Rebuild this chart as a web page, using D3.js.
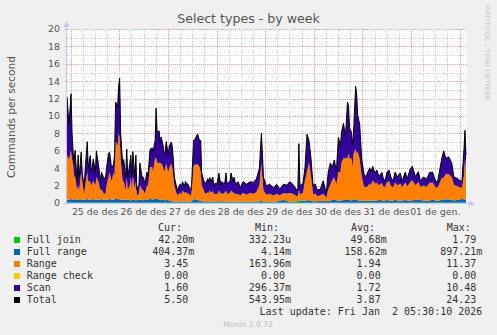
<!DOCTYPE html>
<html><head><meta charset="utf-8">
<script src="https://cdn.jsdelivr.net/npm/d3@7"></script>
<style>body{margin:0;background:#f0f0f0;} svg{display:block;}</style>
</head><body><svg id="c" width="497" height="335"></svg>
<script>
// 30-minute sample slots counted from the graph start
const slots = [
 0,2,4,5,6,7,8,10,11,12,14,15,17,18,20,21,23,24,26,28,29,31,33,34,36,38,39,41,42,44,46,47,48,50,51,52,53,55,56,58,59,60,
 62,63,64,65,67,68,69,71,72,74,75,77,79,80,82,84,85,87,88,89,91,92,93,95,96,97,98,100,
 101,103,104,105,106,108,109,110,112,113,114,116,117,118,119,121,122,123,125,126,128,129,131,132,133,135,136,137,139,140,141,142,144,145,146,148,149,150,152,153,154,156,157,158,160,
 161,162,164,165,166,168,169,171,174,177,181,184,187,190,192,194,197,200,204,207,210,214,217,220,223,227,228,229,230,
 233,235,237,239,241,243,245,247,250,253,256,258,260,262,264,266,268,270,271,273,275,277,278,279,281,282,283,285,286,287,289,290,291,293,294,296,299,300,
 302,304,306,308,311,312,314,316,318,320,322,324,326,329,331,334,336,339,341,344,347,349,352,355,358,361,364,366,370,372,374,377,380,382,385,388,390,392,393,394];
const fullJoin = [
 .05,.06,.05,.04,.05,.06,.05, .05,.06,.05,.04,.05,.06,.05, .05,.06,.05,.04,.05,.06,.05, .05,.06,.05,.04,.05,.06,.05, .05,.06,.05,.04,.05,.06,.05, .05,.06,.05,.04,.05,.06,.05,
 .05,.04,.05,.06,.05,.05,.04, .05,.04,.05,.06,.05,.05,.04, .05,.04,.05,.06,.05,.05,.04, .05,.04,.05,.06,.05,.05,.04,
 .05,.05,.04,.05,.06,.05,.05, .05,.05,.04,.05,.06,.05,.05, .05,.05,.04,.05,.06,.05,.05, .05,.05,.04,.05,.06,.05,.05, .05,.05,.04,.05,.06,.05,.05, .05,.05,.04,.05,.06,.05,.05, .05,.05,.05,
 .05,.05,.05,.05,.05,.05,.05, .05,.05,.05,.05,.05,.05,.05, .05,.05,.05,.05,.05,.05,.05, .05,.05,.05,.05,.05,.15,.4, .15,
 .05,.06,.05,.05,.04,.05,.05, .05,.06,.05,.05,.04,.05,.05, .05,.06,.05,.05,.04,.05,.05, .05,.06,.05,.05,.04,.05,.05, .05,.06,.05,.05,.04,.05,.05, .05,.05,.05,
 .05,.05,.04,.05,.06,.05,.05, .05,.05,.04,.05,.06,.05,.05, .05,.05,.04,.05,.06,.05,.05, .05,.05,.04,.05,.06,.05,.05, .05,.05,.04,.05,.06,.05,.05, .05,.05,.04,.05,.04];
const fullRange = [
 .35,.3,.4,.35,.3,.35,.4, .3,.35,.3,.4,.35,.3,.35, .4,.35,.3,.35,.4,.3,.35, .3,.35,.4,.3,.35,.3,.35, .4,.35,.3,.4,.45,.4,.35, .4,.35,.3,.35,.3,.35,.3,
 .3,.25,.3,.35,.3,.25,.3, .3,.35,.3,.25,.3,.3,.35, .4,.4,.35,.4,.45,.4,.35, .3,.35,.3,.3,.25,.3,.3,
 .2,.15,.15,.1,.1,.1,.1, .1,.15,.1,.1,.1,.15,.1, .1,.1,.1,.15,.35,.4,.35, .3,.25,.2,.15,.15,.1,.1, .15,.1,.1,.15,.1,.15,.1, .15,.1,.1,.15,.1,.15,.1, .1,.15,.1,
 .1,.1,.12,.1,.1,.12,.1, .1,.12,.1,.1,.12,.1,.15, .2,.1,.1,.12,.1,.1,.25, .3,.2,.1,.1,.12,.1,.12, .15,
 .2,.2,.25,.3,.2,.15,.15, .15,.2,.2,.15,.2,.25,.3, .3,.25,.2,.2,.25,.3,.3, .35,.3,.3,.25,.3,.3,.35, .3,.25,.2,.2,.2,.2,.15, .2,.2,.2,
 .25,.2,.25,.3,.25,.2,.25, .3,.25,.2,.25,.3,.25,.2, .25,.3,.25,.2,.25,.3,.35, .3,.25,.2,.25,.3,.25,.2, .3,.35,.4,.35,.3,.25,.3, .35,.4,.4,.3,.40];
const range = [
 5.1,4.6,5.6,4.6,4.1,2.6,2.6, 1.1,1.6,1.1,3.1,2.1,0.6,1.6, 3.1,2.1,2.1,1.6,2.1,1.6,2.6, 2.1,1.1,1.1,0.8,0.6,1.6,2.6, 3.1,2.1,3.1,2.6,6.6,6.1,7.6, 7.1,4.6,2.1,2.1,1.1,2.6,1.1,
 1.7,2.7,1.2,2.7,1.2,2.2,0.5, 0.7,1.7,1.2,1.2,0.7,1.7,1.5, 3.7,3.7,3.2,4.7,4.7,4.2,4.2, 4.2,4.2,3.7,3.2,3.7,4.2,3.2,
 3.8,4.3,3.8,2.8,1.8,1.0,0.8, 0.8,1.0,0.8,1.3,1.0,1.1,1.0, 1.0,0.8,0.7,1.0,3.8,4.0,4.0, 4.1,3.8,3.3,1.8,1.3,1.0,0.9, 1.0,1.0,1.3,1.0,1.2,0.8,0.9, 0.8,1.0,1.3,0.8,1.0,0.8,1.1, 1.3,0.8,1.0,
 1.0,1.3,1.0,1.0,0.9,0.8,0.9, 0.7,1.0,0.8,1.0,0.9,1.1,1.8, 4.3,1.3,0.8,0.9,0.7,0.9,0.6, 0.8,0.8,1.0,0.9,0.6,0.6,1.0, 0.7,
 0.9,2.3,3.3,4.3,2.8,0.8,0.9, 0.6,0.6,0.8,0.4,1.3,1.8,2.3, 2.6,1.8,3.3,3.3,4.3,4.8,4.8, 4.8,5.3,4.8,4.8,3.8,5.3,5.8, 5.3,5.6,4.8,3.8,2.8,1.8,1.6, 1.6,2.0,1.8,
 2.3,2.0,2.0,1.7,2.0,1.7,1.5, 2.0,2.2,1.7,1.5,2.0,1.7,2.0, 1.5,2.0,1.6,2.2,2.3,1.7,2.0, 1.5,1.7,1.6,2.0,2.0,1.5,1.5, 2.5,2.5,2.9,2.9,2.6,1.8,1.6, 1.4,1.3,2.7,4.7,3.45];
const scan = [
 6.7,4.0,6.5,3.0,1.5,1.5,3.0, 1.0,3.5,1.5,2.3,1.0,0.8,2.0, 3.5,1.5,3.0,1.5,2.5,1.5,3.0, 2.0,1.0,2.0,1.8,1.8,2.0,2.7, 2.3,1.5,1.0,2.5,4.5,4.5,5.5, 6.8,3.0,2.0,2.5,1.5,3.2,1.5,
 2.5,2.5,1.5,2.8,1.5,3.0,0.7, 1.0,2.5,1.5,1.5,1.2,1.5,1.2, 2.0,2.2,2.3,2.0,5.7,3.5,3.7, 2.5,3.0,2.5,2.0,2.0,2.5,2.0,
 2.5,2.5,2.5,2.0,1.0,0.8,0.5, 0.8,1.0,0.8,1.0,0.8,1.2,1.0, 1.1,0.8,0.6,0.8,3.0,2.8,3.3, 3.5,3.0,3.7,1.5,1.0,1.3,1.1, 1.6,1.3,1.5,1.3,1.6,1.0,1.2, 1.2,1.6,2.0,1.0,1.3,1.2,1.2, 2.0,1.2,1.3,
 1.3,2.0,1.3,1.8,1.4,1.2,1.4, 0.9,1.3,1.2,1.3,1.3,1.5,2.0, 3.5,1.5,1.0,1.1,0.9,1.1,0.7, 1.0,1.0,1.3,1.1,0.7,0.9,5.3, 1.0,
 1.1,1.5,4.3,2.5,2.0,1.0,1.1, 0.7,0.7,1.5,0.5,2.0,2.5,1.5, 2.0,1.5,4.0,3.0,3.5,4.0,2.5, 6.4,5.5,3.5,3.0,2.5,2.5,7.2, 7.0,4.2,4.0,3.0,2.0,1.5,1.2, 1.4,1.8,1.5,
 1.6,1.2,1.5,1.0,1.2,1.0,0.7, 1.2,1.3,1.0,0.7,1.2,1.0,1.2, 0.7,1.2,0.9,1.5,1.6,1.0,1.2, 0.7,1.0,0.9,1.2,1.2,0.7,0.7, 2.2,3.1,1.8,2.0,1.6,0.9,0.9, 0.8,0.7,3.0,3.3,1.6];
const rangeCheck = slots.map(() => 0); // Range check is 0.00 throughout (legend)

const yTicks = [0,2,4,6,8,10,12,14,16,18,20];
const dayLabels = ["25 de des","26 de des","27 de des","28 de des","29 de des","30 de des","31 de des","01 de gen."];
const seriesNames = ["Full join","Full range","Range","Range check","Scan","Total"];
const curVals = ["42.20m","404.37m","3.45","0.00","1.60","5.50"];
const minVals = ["332.23u","4.14m","163.96m","0.00","296.37m","543.95m"];
const avgVals = ["49.68m","158.62m","1.94","0.00","1.72","3.87"];
const maxVals = ["1.79","897.21m","11.37","0.00","10.48","24.23"];

const colors = ["#00cc00","#0066b3","#ff8000","#ffcc00","#330099","#000000"];
const W=497,H=335,L=67,R=467,T=29,B=203;
const start = Date.UTC(2025,11,24,22,10);
const slotMs = 30*60*1000;
const end = start + 395*slotMs;
const x = d3.scaleUtc().domain([new Date(start), new Date(end)]).range([L,R]);
const y = d3.scaleLinear().domain([0,20]).range([B,T]);
const svg = d3.select('#c');
const sans = "DejaVu Sans, sans-serif", mono = "DejaVu Sans Mono, monospace";

svg.append('rect').attr('width',W).attr('height',H).attr('fill','#f0f0f0');
svg.append('rect').attr('x',L).attr('y',T).attr('width',R-L).attr('height',B-T).attr('fill','#fff');

// grid
const g = svg.append('g').attr('shape-rendering','crispEdges');
d3.range(1,21).forEach(v=>{
  const yy = Math.round(y(v))+0.5;
  g.append('line').attr('x1',L-2).attr('x2',R).attr('y1',yy).attr('y2',yy)
   .attr('stroke', v%2===0 ? '#e8a0a0' : '#d4d4d4').attr('stroke-dasharray','1,1');
});
const hours6 = d3.utcHour.every(6).range(new Date(start), new Date(end));
hours6.forEach(t=>{
  const xx = Math.round(x(t))+0.5;
  const major = t.getUTCHours()===0;
  g.append('line').attr('x1',xx).attr('x2',xx).attr('y1',T).attr('y2',B+2)
   .attr('stroke', major ? '#e8a0a0' : '#d4d4d4').attr('stroke-dasharray','1,1');
});

// data
const n = Math.min(slots.length, fullJoin.length, fullRange.length, range.length, scan.length);
const rows = d3.range(n).map(i=>({t:new Date(start+slots[i]*slotMs), fj:fullJoin[i], fr:fullRange[i], rg:range[i], rc:rangeCheck[i], sc:scan[i]}));
const keys = ['fj','fr','rg','rc','sc'];
const stack = d3.stack().keys(keys)(rows);
svg.append('clipPath').attr('id','clip').append('rect').attr('x',L).attr('y',T-1).attr('width',R-L).attr('height',B-T+1);
const pg = svg.append('g').attr('clip-path','url(#clip)');
const area = d3.area().x(d=>x(d.data.t)).y0(d=>y(d[0])).y1(d=>y(d[1]));
stack.forEach((s,i)=>{
  pg.append('path').attr('d',area(s)).attr('fill',colors[i]);
});
const line = d3.line().x(d=>x(d.t)).y(d=>y(d.fj+d.fr+d.rg+d.rc+d.sc));
pg.append('path').attr('d',line(rows)).attr('fill','none').attr('stroke','#000').attr('stroke-width',1);

// axes
const ac = '#c4c8f8';
svg.append('line').attr('x1',66.5).attr('x2',66.5).attr('y1',B+2).attr('y2',25).attr('stroke',ac);
svg.append('path').attr('d','M63.5,27 L69.5,27 L66.5,21 Z').attr('fill',ac);
svg.append('line').attr('x1',64).attr('x2',471).attr('y1',B+0.5).attr('y2',B+0.5).attr('stroke',ac);
svg.append('path').attr('d',`M469,${B-2.5} L469,${B+3.5} L475,${B+0.5} Z`).attr('fill',ac);

// tick labels
yTicks.forEach(v=>{
  svg.append('text').attr('x',60).attr('y',y(v)+3.4).attr('text-anchor','end')
   .attr('font-family',sans).attr('font-size',9.4).attr('fill','#555').text(v);
});
const days = d3.utcDay.range(d3.utcDay.ceil(new Date(start)), new Date(end));
dayLabels.forEach((lab,i)=>{
  const noon = new Date(days[i].getTime()+12*3600*1000);
  svg.append('text').attr('x',x(noon)).attr('y',215).attr('text-anchor','middle')
   .attr('font-family',sans).attr('font-size',9.4).attr('fill','#555').text(lab);
});

// title & labels
svg.append('text').attr('x',248.5).attr('y',22.5).attr('text-anchor','middle')
  .attr('font-family',sans).attr('font-size',12.6).attr('fill','#555').text('Select types - by week');
svg.append('text').attr('transform','translate(15,117) rotate(-90)').attr('text-anchor','middle')
  .attr('font-family',sans).attr('font-size',10.6).attr('fill','#555').text('Commands per second');
svg.append('text').attr('transform','translate(484.5,5) rotate(90)').attr('text-anchor','start')
  .attr('font-family',sans).attr('font-size',7).attr('fill','#c8c8c8')
  .attr('textLength',96).attr('lengthAdjust','spacingAndGlyphs').text('RRDTOOL / TOBI OETIKER');

// legend
const lg = svg.append('g').attr('font-family',mono).attr('font-size',10).attr('fill','#333');
const colRight = [194.3, 291, 386.7, 482.3];
const headers = ["Cur:","Min:","Avg:","Max:"];
const headX = [158, 255, 351, 446.7];
headers.forEach((h,i)=> lg.append('text').attr('x',headX[i]).attr('y',231).text(h));
const cols = [curVals,minVals,avgVals,maxVals];
seriesNames.forEach((nm,i)=>{
  const by = 243 + i*12;
  lg.append('rect').attr('x',14).attr('y',by-6).attr('width',6).attr('height',6).attr('fill',colors[i]);
  lg.append('text').attr('x',26.7).attr('y',by).text(nm);
  cols.forEach((c,j)=>{
    const v = c[i];
    const hasSuf = /[a-zA-Z]$/.test(v);
    lg.append('text').attr('x', hasSuf ? colRight[j] : colRight[j]-6.02).attr('y',by)
      .attr('text-anchor','end').text(v);
  });
});
lg.append('text').attr('x',482.3).attr('y',315).attr('text-anchor','end')
  .style('white-space','pre').text('Last update: Fri Jan  2 05:30:10 2026');
svg.append('text').attr('x',248).attr('y',327).attr('text-anchor','middle')
  .attr('font-family',sans).attr('font-size',7.6).attr('fill','#bbb').text('Munin 2.0.73');
</script></body></html>
